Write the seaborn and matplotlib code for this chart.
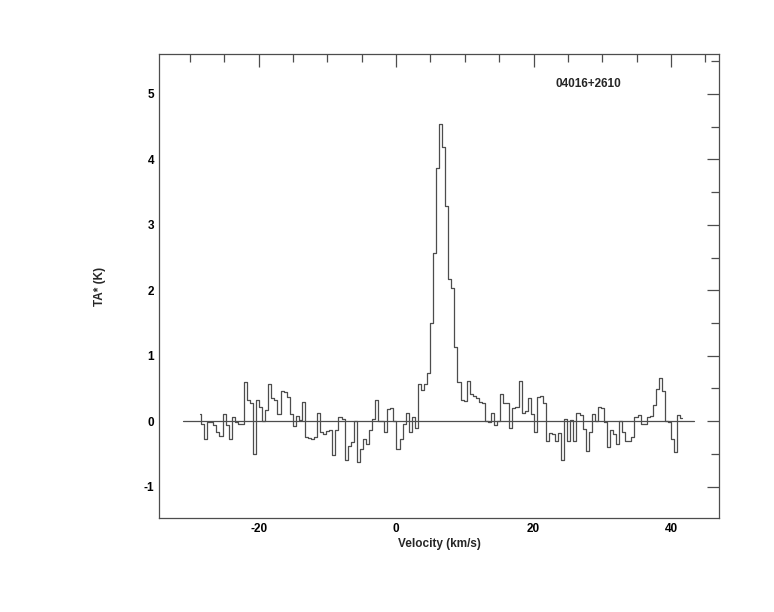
import numpy as np
import pandas as pd
import matplotlib
matplotlib.use("Agg")
import matplotlib.pyplot as plt
import seaborn as sns
from matplotlib.ticker import MultipleLocator

# spectrum of 04016+2610, antenna temperature per channel (K)
source_name = "04016+2610"
v_start = -28.58   # centre of first channel, km/s
dv = 0.444         # channel width, km/s
ta_star = [
    0.11, -0.05, -0.27, -0.01, -0.01, -0.06, -0.16, -0.22, 0.11, -0.06,
    -0.27, 0.07, -0.01, -0.04, -0.05, 0.60, 0.32, 0.27, -0.50, 0.33,
    0.22, 0.00, 0.17, 0.57, 0.35, 0.32, 0.11, 0.46, 0.44, 0.37,
    0.11, -0.08, 0.08, 0.02, 0.30, -0.24, -0.26, -0.27, -0.24, 0.12,
    -0.16, -0.20, -0.15, -0.13, -0.52, -0.13, 0.07, 0.03, -0.60, -0.38,
    -0.32, 0.00, -0.62, -0.42, -0.27, -0.35, -0.13, 0.03, 0.32, 0.00,
    0.00, -0.16, 0.19, 0.20, 0.00, -0.43, -0.28, -0.04, 0.13, -0.16,
    0.07, -0.11, 0.57, 0.47, 0.57, 0.73, 1.50, 2.57, 3.87, 4.54,
    4.19, 3.28, 2.17, 2.03, 1.14, 0.60, 0.32, 0.31, 0.61, 0.41,
    0.38, 0.35, 0.30, 0.27, 0.00, -0.02, 0.13, -0.06, 0.00, 0.41,
    0.27, 0.27, -0.11, 0.20, 0.22, 0.61, 0.12, 0.15, 0.36, 0.11,
    -0.16, 0.37, 0.38, 0.28, -0.30, -0.18, -0.20, -0.30, -0.18, -0.60,
    0.03, -0.30, 0.02, -0.30, 0.13, 0.10, -0.12, -0.45, -0.17, 0.11,
    0.00, 0.22, 0.20, -0.01, -0.40, -0.13, -0.20, -0.35, 0.00, -0.16,
    -0.30, -0.30, -0.24, 0.06, 0.09, -0.04, -0.05, 0.06, 0.08, 0.25,
    0.49, 0.66, 0.46, 0.00, -0.01, -0.27, -0.47, 0.09, 0.05,
]
baseline_range = [-31.0, 43.3]

velocity = v_start + dv * np.arange(len(ta_star))
df = pd.DataFrame({"velocity": velocity, "ta": ta_star})

sns.set_style("white")
plt.rcParams["font.family"] = ["Liberation Sans", "DejaVu Sans"]
plt.rcParams["font.weight"] = "bold"
plt.rcParams["axes.unicode_minus"] = False

fig = plt.figure(figsize=(7.74, 6.12), dpi=100)
ax = fig.add_axes([0.2054, 0.1536, 0.7236, 0.7582])

line_col = "#4d4d4d"
ax.plot(baseline_range, [0, 0], color=line_col, lw=0.9)
sns.lineplot(data=df, x="velocity", y="ta", drawstyle="steps-mid",
             color=line_col, lw=0.9, ax=ax, sort=False)

ax.set_xlim(-34.5, 47.0)
ax.set_ylim(-1.48, 5.61)
ax.xaxis.set_major_locator(MultipleLocator(20))
ax.xaxis.set_minor_locator(MultipleLocator(5))
ax.yaxis.set_major_locator(MultipleLocator(1))
ax.yaxis.set_minor_locator(MultipleLocator(0.5))
ax.tick_params(which="both", direction="in", top=True, right=True,
               colors=line_col, labelcolor="black", labelsize=8.5, width=0.9)
ax.tick_params(which="major", length=9)
ax.tick_params(which="minor", length=6)
for lab in ax.get_xticklabels() + ax.get_yticklabels():
    lab.set_fontweight("bold")
for sp in ax.spines.values():
    sp.set_color(line_col)
    sp.set_linewidth(0.9)

ax.set_xlabel("Velocity (km/s)", fontsize=8.5, fontweight="bold", labelpad=2)
ax.set_ylabel("TA* (K)", fontsize=8.5, fontweight="bold", labelpad=27)
ax.text(0.766, 0.935, source_name, transform=ax.transAxes, fontsize=8.5,
        fontweight="bold", ha="center", va="center")

fig.savefig("out.png", dpi=100)
